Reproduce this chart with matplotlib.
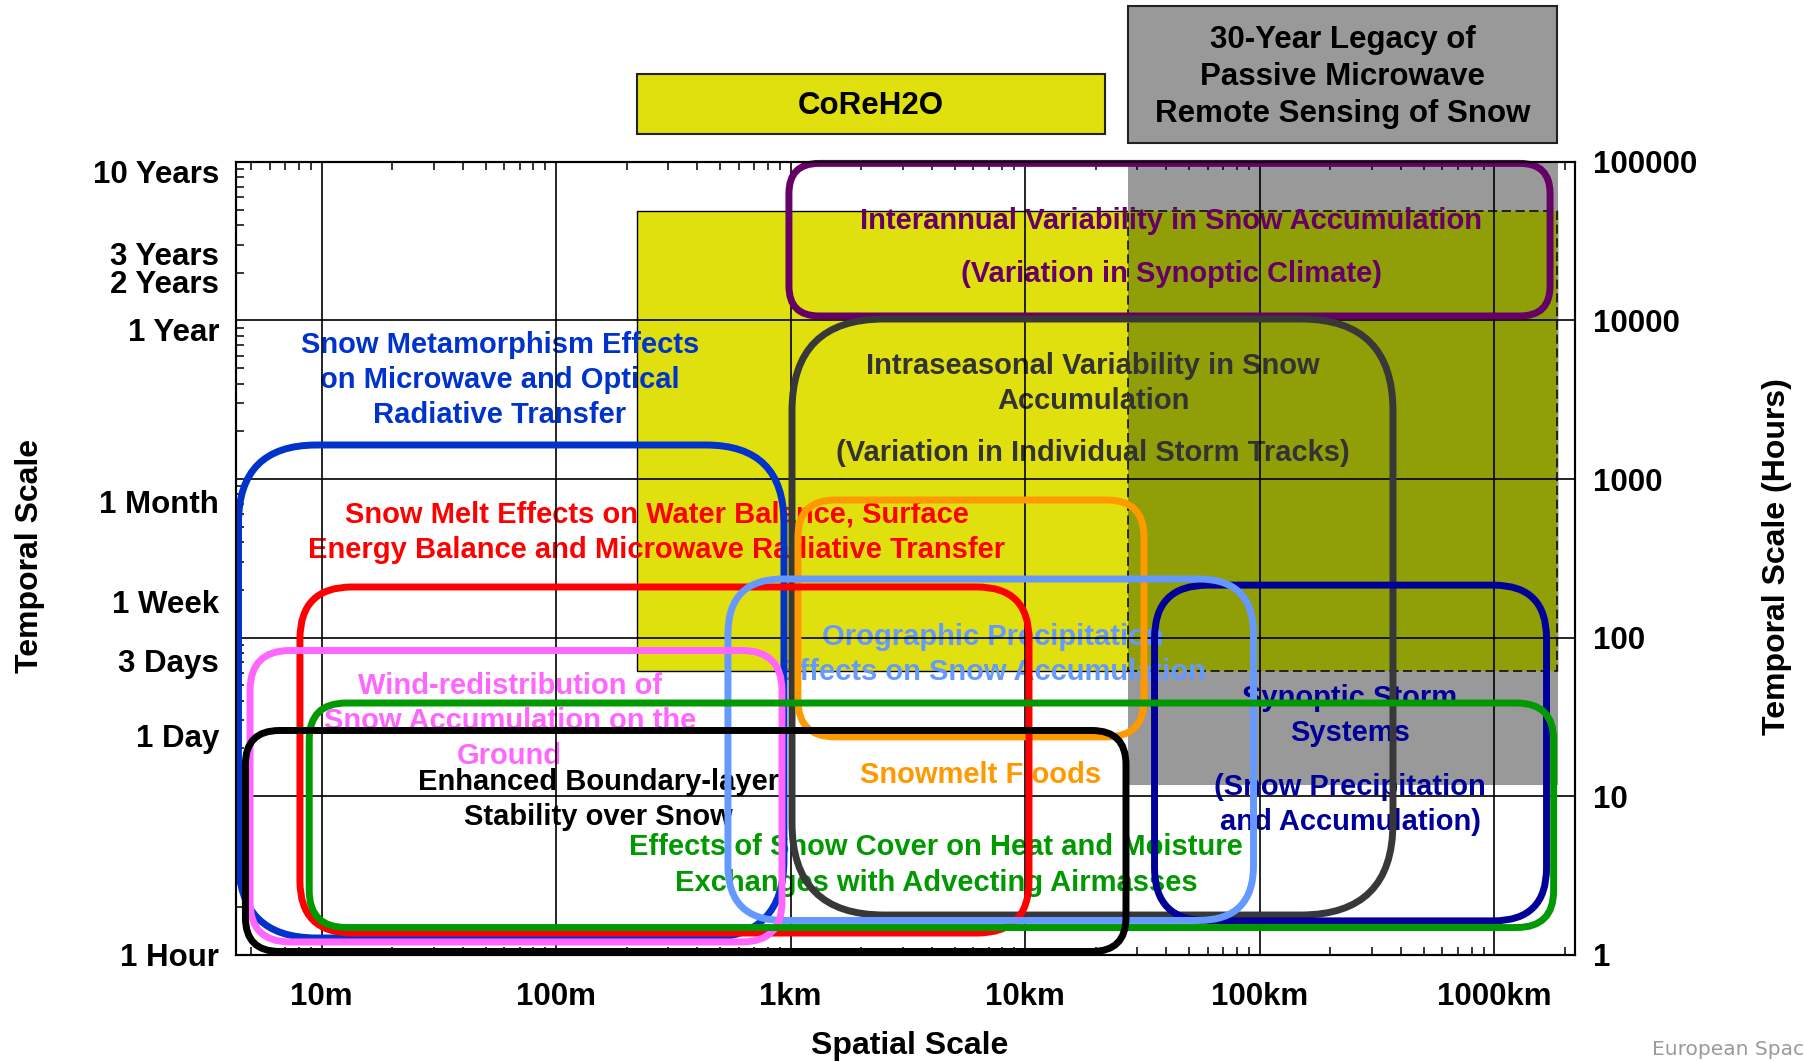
import matplotlib
matplotlib.use("Agg")
import matplotlib.pyplot as plt
from matplotlib.patches import FancyBboxPatch, Rectangle
from matplotlib.transforms import IdentityTransform, blended_transform_factory
from matplotlib.ticker import FixedLocator, FixedFormatter, LogLocator, NullFormatter, NullLocator

plt.rcParams['font.family'] = ['Liberation Sans', 'DejaVu Sans']
plt.rcParams['font.weight'] = 'bold'

# ---------------------------------------------------------------- data
# axis ranges: spatial scale in metres, temporal scale in hours
x_range = (4.3, 2.21e6)
y_range = (1.0, 1.0e5)

# bottom axis decades (m)
x_ticks = [10, 100, 1e3, 1e4, 1e5, 1e6]
x_labels = ['10m', '100m', '1km', '10km', '100km', '1000km']

# left axis: named durations in hours
t_ticks = [87600, 26280, 17520, 8760, 720, 168, 72, 24, 1]
t_labels = ['10 Years', '3 Years', '2 Years', '1 Year', '1 Month',
            '1 Week', '3 Days', '1 Day', '1 Hour']

# right axis: hours
h_ticks = [1, 10, 100, 1000, 10000, 100000]
h_labels = ['1', '10', '100', '1000', '10000', '100000']

# observation coverage (m, h)
coreh2o_x = [221, 1.844e6]
coreh2o_y = [61.4, 49080]
legacy_x = [27570, 1.871e6]
legacy_y = [11.73, 1.2e5]

# header captions and their spatial extent (m)
header_labels = ['CoReH2O', '30-Year Legacy of\nPassive Microwave\nRemote Sensing of Snow']
header_x0 = [221, 27570]
header_x1 = [21890, 1.858e6]

# snow process domains: spatial extent (m) and temporal extent (h)
process_names = ['interannual', 'intraseasonal', 'metamorphism', 'floods', 'snowmelt',
                 'synoptic', 'orographic', 'wind', 'airmass', 'boundary']
process_x0 = [983, 1013, 4.42, 1074, 8.08, 35600, 540, 4.95, 8.85, 4.73]
process_x1 = [1.73e6, 3.70e5, 936, 32100, 10380, 1.671e6, 94100, 918, 1.792e6, 26900]
process_y0 = [10680, 1.775, 1.271, 23.6, 1.366, 1.63, 1.64, 1.20, 1.48, 1.045]
process_y1 = [98000, 10220, 1639, 737, 208.3, 214, 234, 82.8, 38.6, 25.9]

# process captions: text, position (m, h), owning process
label_texts = [
    'Interannual Variability in Snow Accumulation',
    '(Variation in Synoptic Climate)',
    'Intraseasonal Variability in Snow\nAccumulation',
    '(Variation in Individual Storm Tracks)',
    'Snow Metamorphism Effects\non Microwave and Optical\nRadiative Transfer',
    'Snowmelt Floods',
    'Snow Melt Effects on Water Balance, Surface\nEnergy Balance and Microwave Radiative Transfer',
    'Synoptic Storm\nSystems',
    '(Snow Precipitation\nand Accumulation)',
    'Orographic Precipitation\nEffects on Snow Accumulation',
    'Wind-redistribution of\nSnow Accumulation on the\nGround',
    'Effects of Snow Cover on Heat and Moisture\nExchanges with Advecting Airmasses',
    'Enhanced Boundary-layer\nStability over Snow',
]
label_x = [41860, 41860, 19460, 19460, 57.6, 6479, 269, 242700, 242700, 7290, 63.35, 4165, 152]
label_y = [42440, 19660, 4004, 1459, 4213, 13.57, 459.7, 32.4, 8.875, 77.6, 29.73, 3.67, 9.546]
label_owner = ['interannual', 'interannual', 'intraseasonal', 'intraseasonal', 'metamorphism',
               'floods', 'snowmelt', 'synoptic', 'synoptic', 'orographic', 'wind',
               'airmass', 'boundary']

# ---------------------------------------------------------------- styles
line_colors = {
    'interannual': '#660066', 'intraseasonal': '#383838', 'metamorphism': '#0033CC',
    'floods': '#FF9900', 'snowmelt': '#FF0000', 'synoptic': '#000099',
    'orographic': '#6699FF', 'wind': '#FF66FF', 'airmass': '#009900', 'boundary': '#000000',
}
text_colors = dict(line_colors, intraseasonal='#333333')
corner_px = {
    'interannual': 30, 'intraseasonal': 92, 'metamorphism': 78, 'floods': 37,
    'snowmelt': 52, 'synoptic': 53, 'orographic': 55, 'wind': 40, 'airmass': 37,
    'boundary': 34,
}
YELLOW = '#E0E00E'
OLIVE = '#909F08'
GREY = '#999999'

# ---------------------------------------------------------------- figure
DPI = 100
fig = plt.figure(figsize=(18.04, 10.62), dpi=DPI)
ax = fig.add_axes([0.13065, 0.10122, 0.74241, 0.74624])
ax.set_xscale('log')
ax.set_yscale('log')
ax.set_xlim(*x_range)
ax.set_ylim(*y_range)
ax.set_autoscale_on(False)

ax.xaxis.set_major_locator(FixedLocator(x_ticks))
ax.xaxis.set_major_formatter(FixedFormatter(x_labels))
ax.xaxis.set_minor_locator(LogLocator(base=10, subs=range(2, 10), numticks=100))
ax.xaxis.set_minor_formatter(NullFormatter())
ax.yaxis.set_major_locator(FixedLocator(t_ticks))
ax.yaxis.set_major_formatter(FixedFormatter(t_labels))
ax.yaxis.set_minor_locator(LogLocator(base=10, subs=range(2, 10), numticks=100))
ax.yaxis.set_minor_formatter(NullFormatter())
ax.tick_params(axis='both', which='major', length=0, labelsize=22.5)
ax.tick_params(axis='x', which='major', pad=20)
ax.tick_params(axis='y', which='major', pad=12)
ax.tick_params(axis='both', which='minor', direction='in', length=6, width=1.1,
               top=True, bottom=True, left=True, right=True)
for sp in ax.spines.values():
    sp.set_linewidth(1.5)

ax2 = ax.twinx()
ax2.set_yscale('log')
ax2.set_ylim(*y_range)
ax2.yaxis.set_major_locator(FixedLocator(h_ticks))
ax2.yaxis.set_major_formatter(FixedFormatter(h_labels))
ax2.yaxis.set_minor_locator(NullLocator())
ax2.tick_params(axis='y', which='major', length=0, labelsize=22.5, pad=13)
for sp in ax2.spines.values():
    sp.set_linewidth(1.5)

# coverage shading
ax.add_patch(Rectangle((coreh2o_x[0], coreh2o_y[0]), coreh2o_x[1] - coreh2o_x[0],
                       coreh2o_y[1] - coreh2o_y[0], facecolor=YELLOW, edgecolor='black',
                       linewidth=1.0, zorder=0.5))
ax.add_patch(Rectangle((legacy_x[0], legacy_y[0]), legacy_x[1] - legacy_x[0],
                       legacy_y[1] - legacy_y[0], facecolor=GREY, edgecolor='none', zorder=0.6))
ov_x0, ov_x1 = legacy_x[0], coreh2o_x[1]
ov_y0, ov_y1 = coreh2o_y[0], coreh2o_y[1]
ax.add_patch(Rectangle((ov_x0, ov_y0), ov_x1 - ov_x0, ov_y1 - ov_y0, facecolor=OLIVE,
                       edgecolor='black', linewidth=1.1, linestyle=(0, (6, 3)), zorder=0.7))

# grid
for xv in x_ticks:
    ax.axvline(xv, color='black', linewidth=1.2, zorder=1.5)
for yv in h_ticks[1:-1]:
    ax.axhline(yv, color='black', linewidth=1.2, zorder=1.5)

# captions (beneath the outlines)
for txt, lx, ly, owner in zip(label_texts, label_x, label_y, label_owner):
    ax.text(lx, ly, txt, color=text_colors[owner], fontsize=21, ha='center', va='center',
            linespacing=1.32, zorder=1)

# rounded process outlines, drawn in pixel space from data extents
for i, name in enumerate(process_names):
    (px0, py0), (px1, py1) = ax.transData.transform(
        [(process_x0[i], process_y0[i]), (process_x1[i], process_y1[i])])
    ax.add_patch(FancyBboxPatch((px0, py0), px1 - px0, py1 - py0,
                                boxstyle=f"round,pad=0,rounding_size={corner_px[name]}",
                                transform=IdentityTransform(), fill=False,
                                edgecolor=line_colors[name], linewidth=5,
                                zorder=2 + 0.1 * i, clip_on=False))

# header boxes above the plot
hdr = blended_transform_factory(ax.transData, fig.transFigure)
header_y = [(0.8738, 0.9303, 0.9000), (0.8656, 0.9946, 0.9275)]
header_face = [YELLOW, GREY]
for lab, x0, x1, (yb, yt, yc), fc in zip(header_labels, header_x0, header_x1, header_y, header_face):
    ax.add_patch(Rectangle((x0, yb), x1 - x0, yt - yb, transform=hdr, facecolor=fc,
                           edgecolor='#222222', linewidth=1.5, clip_on=False))
    ax.text((x0 * x1) ** 0.5, yc, lab, transform=hdr, ha='center', va='center',
            fontsize=22.5, linespacing=1.32, color='black')

# axis titles
fig.text(0.5044, 0.015, 'Spatial Scale', ha='center', va='center', fontsize=23)
fig.text(0.0167, 0.4765, 'Temporal Scale', ha='center', va='center', rotation=90, fontsize=23)
fig.text(0.9853, 0.4755, 'Temporal Scale (Hours)', ha='center', va='center', rotation=90,
         fontsize=23)
fig.text(0.9998, 0.0113, 'European Spac', ha='right', va='center', fontsize=14.5,
         family='DejaVu Sans', fontweight='normal', color='#9a9a9a')

fig.savefig('out.png', dpi=DPI)
